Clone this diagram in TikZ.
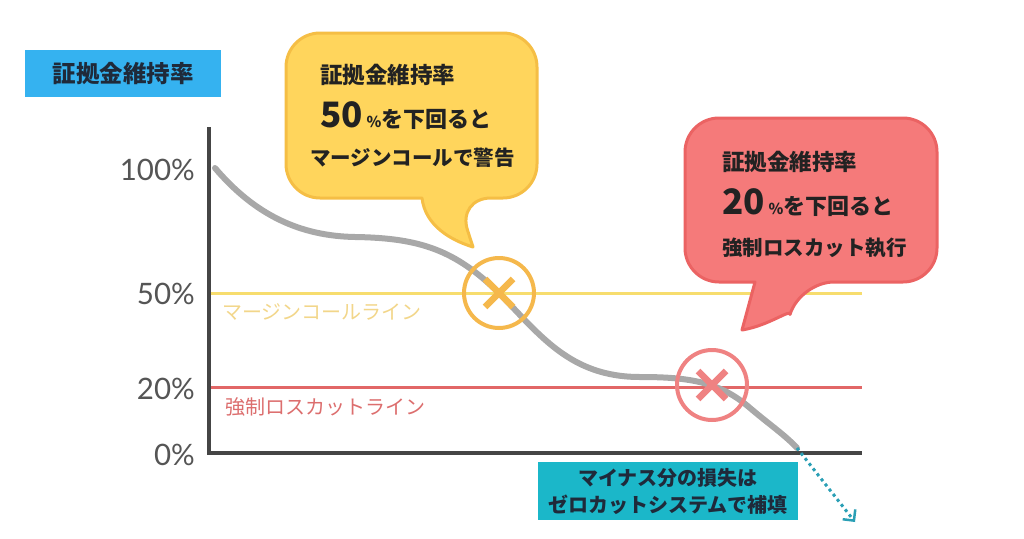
\documentclass[tikz,border=0pt]{standalone}
\usepackage{fontspec}
\setmainfont{Noto Sans CJK JP}
\newfontfamily\numfont{Lato}
\usetikzlibrary{arrows.meta,positioning,calc}
\definecolor{cBlue}{HTML}{35B2F0}
\definecolor{cTeal}{HTML}{1BB7C9}
\definecolor{cArr}{HTML}{2A9FB5}
\definecolor{cYelF}{HTML}{FFD55C}
\definecolor{cYelD}{HTML}{F5BE45}
\definecolor{cRedF}{HTML}{F57A7A}
\definecolor{cRedD}{HTML}{EB6363}
\definecolor{cMarg}{HTML}{F7DD6E}
\definecolor{cMargT}{HTML}{F2D68A}
\definecolor{cLoss}{HTML}{E26767}
\definecolor{cLossT}{HTML}{DC6E6E}
\definecolor{cCurve}{HTML}{A8A8A8}
\definecolor{cCircY}{HTML}{F5B84C}
\definecolor{cCircR}{HTML}{EF8282}
\definecolor{cAxis}{HTML}{454545}
\definecolor{cLbl}{HTML}{555555}
\definecolor{cInk}{HTML}{222222}
\definecolor{cNavy}{HTML}{1F2A3A}
\tikzset{
  >=Stealth,
  ax/.style    ={line width=3.5pt,cAxis},
  pct/.style   ={font=\numfont\fontsize{29.5}{30}\selectfont,text=cLbl,anchor=east,inner sep=0pt},
  lvl/.style   ={line width=3pt},
  lvltxt/.style={font=\fontsize{20}{20}\selectfont,anchor=west,inner sep=0pt},
  bub/.style   ={line width=3pt,line join=round},
  btxt/.style  ={font=\bfseries\fontsize{22.5}{23}\selectfont,text=cInk,anchor=west,inner sep=0pt},
  bnum/.style  ={font=\bfseries\fontsize{22}{22}\selectfont,text=cInk,anchor=base west,inner sep=0pt},
  xcirc/.style ={circle,line width=4pt,minimum size=70pt,inner sep=0pt},
  xbar/.style  ={line width=6.5pt},
  tagbox/.style={inner sep=0pt,font=\bfseries\fontsize{23.5}{24}\selectfont,text=cNavy},
  curve/.style ={line width=6pt,cCurve,line cap=round},
}

\begin{document}
\begin{tikzpicture}[x=1pt,y=-1pt]
\useasboundingbox (0,0) rectangle (1024,538);

\node[tagbox,fill=cBlue,minimum width=196pt,minimum height=47pt] (ttl) at (123,73.5) {証拠金維持率};

% axes and level lines
\coordinate (o)    at (209,453);
\coordinate (ytop) at (209,127);
\coordinate (xend) at (862,453);
\coordinate (m0) at (209,293);
\coordinate (m1) at (862,293);
\coordinate (l0) at (209,387);
\coordinate (l1) at (862,387);
\draw[lvl,cMarg] (m0)--(m1);
\draw[lvl,cLoss] (l0)--(l1);
\draw[ax] (ytop)--(o)--(xend);

\node[pct] (p100) at (195,170) {100\%};
\node[pct] (p50)  at (195,294) {50\%};
\node[pct] (p20)  at (195,389) {20\%};
\node[pct] (p0)   at (195,455) {0\%};

\node[lvltxt,text=cMargT] (mtxt) at (222,312) {マージンコールライン};
\node[lvltxt,text=cLossT] (ltxt) at (225,407) {強制ロスカットライン};

% price curve
\coordinate (cv0)   at (215,168);
\coordinate (cvend) at (797,448);
\draw[curve] (cv0) .. controls (255,215) and (300,236) .. (355,237)
  .. controls (420,238) and (455,250) .. (499,293)
  .. controls (540,335) and (570,377) .. (640,377)
  .. controls (690,377) and (720,382) .. (750,408)
  .. controls (770,425) and (785,435) .. (cvend);

\node[xcirc,draw=cCircY] (mc) at (499,293) {};
\draw[xbar,cCircY] ($(mc)+(-14,-14)$)--($(mc)+(14,14)$);
\draw[xbar,cCircY] ($(mc)+(-14,14)$)--($(mc)+(14,-14)$);
\node[xcirc,draw=cCircR] (lc) at (712,385) {};
\draw[xbar,cCircR] ($(lc)+(-14,-14)$)--($(lc)+(14,14)$);
\draw[xbar,cCircR] ($(lc)+(-14,14)$)--($(lc)+(14,-14)$);

% callouts
\draw[bub,draw=cYelD,fill=cYelF] (473,247) .. controls (450,240) and (425,225) .. (422,198)
  [rounded corners=34pt] -- (286,198) -- (286,33) -- (537,33) -- (537,198) -- (457,198)
  [sharp corners] -- cycle;
\node[btxt] (yb1) at (320,75) {証拠金維持率};
\node[bnum] (yb2) at (320,127) {{\fontsize{35}{35}\selectfont 50}\,{\fontsize{15}{15}\selectfont\%}を下回ると};
\node[btxt,font=\bfseries\fontsize{20.5}{21}\selectfont] (yb3) at (310,158) {マージンコールで警告};

\draw[bub,draw=cRedD,fill=cRedF] (742,330) -- (755,282)
  [rounded corners=34pt] -- (685,282) -- (685,118) -- (937,118) -- (937,282) -- (800,282)
  [sharp corners] .. controls (792,308) and (768,326) .. (742,330) -- cycle;
\node[btxt] (rb1) at (722,162) {証拠金維持率};
\node[bnum] (rb2) at (722,214) {{\fontsize{35}{35}\selectfont 20}\,{\fontsize{15}{15}\selectfont\%}を下回ると};
\node[btxt,font=\bfseries\fontsize{20.5}{21}\selectfont] (rb3) at (722,248) {強制ロスカット執行};

% zero cut
\node[tagbox,fill=cTeal,text=cNavy,minimum width=260pt,minimum height=58pt,align=center,
      font=\bfseries\fontsize{20}{27}\selectfont] (zc) at (668,491)
  {マイナス分の損失は\\ゼロカットシステムで補填};
\coordinate (zend) at (855,522);
\draw[line width=3pt,cArr,dash pattern=on 3pt off 3.5pt,
      -{Straight Barb[length=8pt,width=16pt,line width=2.5pt]}] (cvend)--(zend);
\end{tikzpicture}
\end{document}
